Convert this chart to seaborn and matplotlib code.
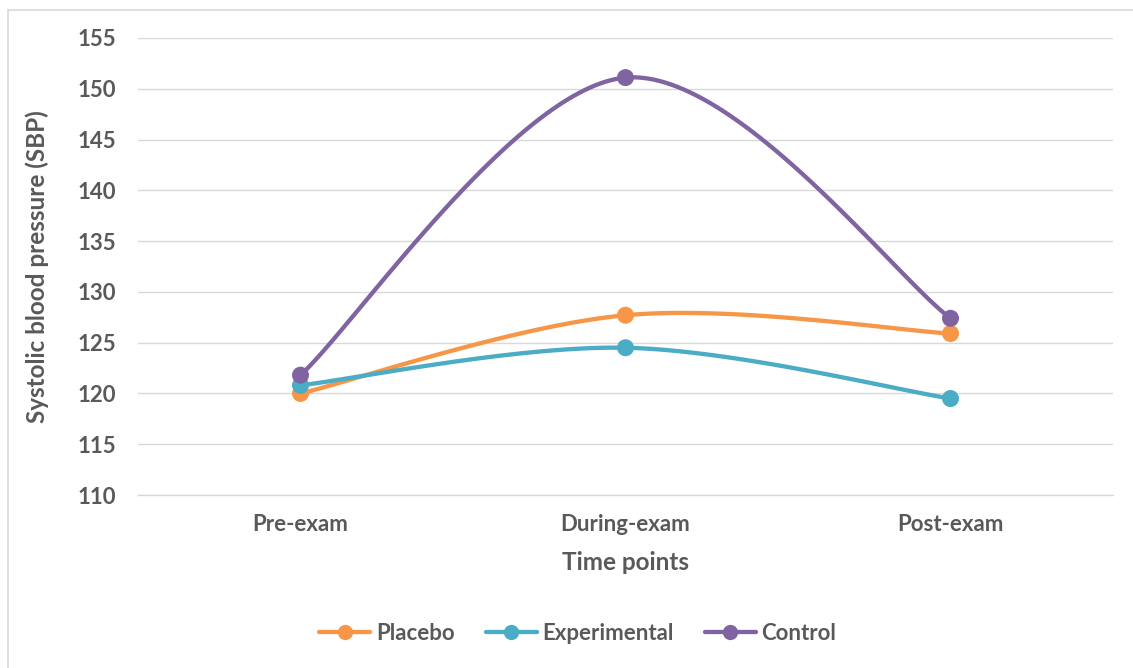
import numpy as np
import pandas as pd
import matplotlib
matplotlib.use("Agg")
import matplotlib.pyplot as plt
import seaborn as sns
from matplotlib.lines import Line2D

# ---- data ----
time_points = ["Pre-exam", "During-exam", "Post-exam"]
placebo = [120.0, 127.7, 125.9]
experimental = [120.8, 124.5, 119.5]
control = [121.8, 151.1, 127.4]
series_names = ["Placebo", "Experimental", "Control"]
y_ticks = [110, 115, 120, 125, 130, 135, 140, 145, 150, 155]

colors = {"Placebo": "#F79646", "Experimental": "#4BACC6", "Control": "#8064A2"}
text_col = "#595959"

sns.set_theme(style="white")
plt.rcParams["font.family"] = ["Lato", "DejaVu Sans"]
plt.rcParams["font.weight"] = "bold"

fig = plt.figure(figsize=(11.33, 6.68), dpi=100)
ax = fig.add_axes([138 / 1133, 1 - 495 / 668, 975 / 1133, 457 / 668])

# long-form data of the points
rows = []
for name, vals in zip(series_names, [placebo, experimental, control]):
    for i, (tp, v) in enumerate(zip(time_points, vals)):
        rows.append({"series": name, "x": i, "tp": tp, "value": v})
df = pd.DataFrame(rows)

# smoothed curves (Excel-like cardinal Bezier), computed in screen-scaled space
sx, sy = 325.0, 10.16


def smooth(xs, ys, n=60):
    P = np.column_stack([np.asarray(xs, float) * sx, np.asarray(ys, float) * sy])
    out = []
    m = len(P)
    for i in range(m - 1):
        p0 = P[i - 1] if i > 0 else P[i]
        p1 = P[i]
        p2 = P[i + 1]
        p3 = P[i + 2] if i + 2 < m else P[i + 1]
        c1 = p1 + (p2 - p0) / 6.0
        c2 = p2 - (p3 - p1) / 6.0
        t = np.linspace(0, 1, n)[:, None]
        seg = ((1 - t) ** 3) * p1 + 3 * ((1 - t) ** 2) * t * c1 + 3 * (1 - t) * t ** 2 * c2 + t ** 3 * p2
        out.append(seg if i == 0 else seg[1:])
    S = np.vstack(out)
    return S[:, 0] / sx, S[:, 1] / sy


curve_rows = []
for name in series_names:
    sub = df[df.series == name]
    cx, cy = smooth(sub.x.values, sub.value.values)
    for k, (a, b) in enumerate(zip(cx, cy)):
        curve_rows.append({"series": name, "x": a, "value": b, "k": k})
curves = pd.DataFrame(curve_rows)

for name in series_names:
    sns.lineplot(data=curves[curves.series == name], x="x", y="value", sort=False,
                 color=colors[name], lw=3.1, ax=ax, legend=False, estimator=None,
                 solid_capstyle="round")
sns.scatterplot(data=df, x="x", y="value", hue="series", palette=colors,
                s=150, edgecolor="none", ax=ax, legend=False, zorder=5)

ax.set_xlim(-0.5, 2.5)
ax.set_ylim(110, 155)
ax.set_yticks(y_ticks)
ax.set_xticks(range(len(time_points)))
ax.set_xticklabels(time_points)
ax.grid(axis="y", color="#D9D9D9", lw=1.0)
ax.set_axisbelow(True)
for s in ["top", "right", "left"]:
    ax.spines[s].set_visible(False)
ax.spines["bottom"].set_color("#D9D9D9")
ax.spines["bottom"].set_linewidth(1.0)
ax.tick_params(axis="y", length=0, pad=16, labelsize=16, labelcolor=text_col)
ax.tick_params(axis="x", length=0, pad=14, labelsize=16, labelcolor=text_col)
for lab in ax.get_xticklabels() + ax.get_yticklabels():
    lab.set_fontweight("bold")

ax.set_xlabel("Time points", fontsize=17.5, fontweight="bold", color=text_col)
ax.set_ylabel("Systolic blood pressure (SBP)", fontsize=17.5, fontweight="bold",
              color=text_col)
ax.xaxis.set_label_coords(0.5, (495 - 551) / 457)
ax.yaxis.set_label_coords((49 - 138) / 975, 0.5)

handles = [Line2D([0], [0], color=colors[n], lw=3.1, marker="o", markersize=11,
                  markeredgewidth=0, solid_capstyle="round") for n in series_names]
leg = fig.legend(handles, series_names, loc="center", ncol=3,
                 bbox_to_anchor=(0.51, 1 - 633 / 668), frameon=False,
                 prop={"size": 16, "weight": "bold"}, handlelength=2.3,
                 columnspacing=1.4, handletextpad=0.25)
for t in leg.get_texts():
    t.set_color(text_col)

# chart border (left and top)
fig.add_artist(Line2D([7.5 / 1133, 7.5 / 1133], [0, 1 - 10 / 668], color="#D9D9D9", lw=1.2))
fig.add_artist(Line2D([7.5 / 1133, 1], [1 - 10 / 668, 1 - 10 / 668], color="#D9D9D9", lw=1.2))

fig.savefig("out.png", dpi=100, facecolor="white")
